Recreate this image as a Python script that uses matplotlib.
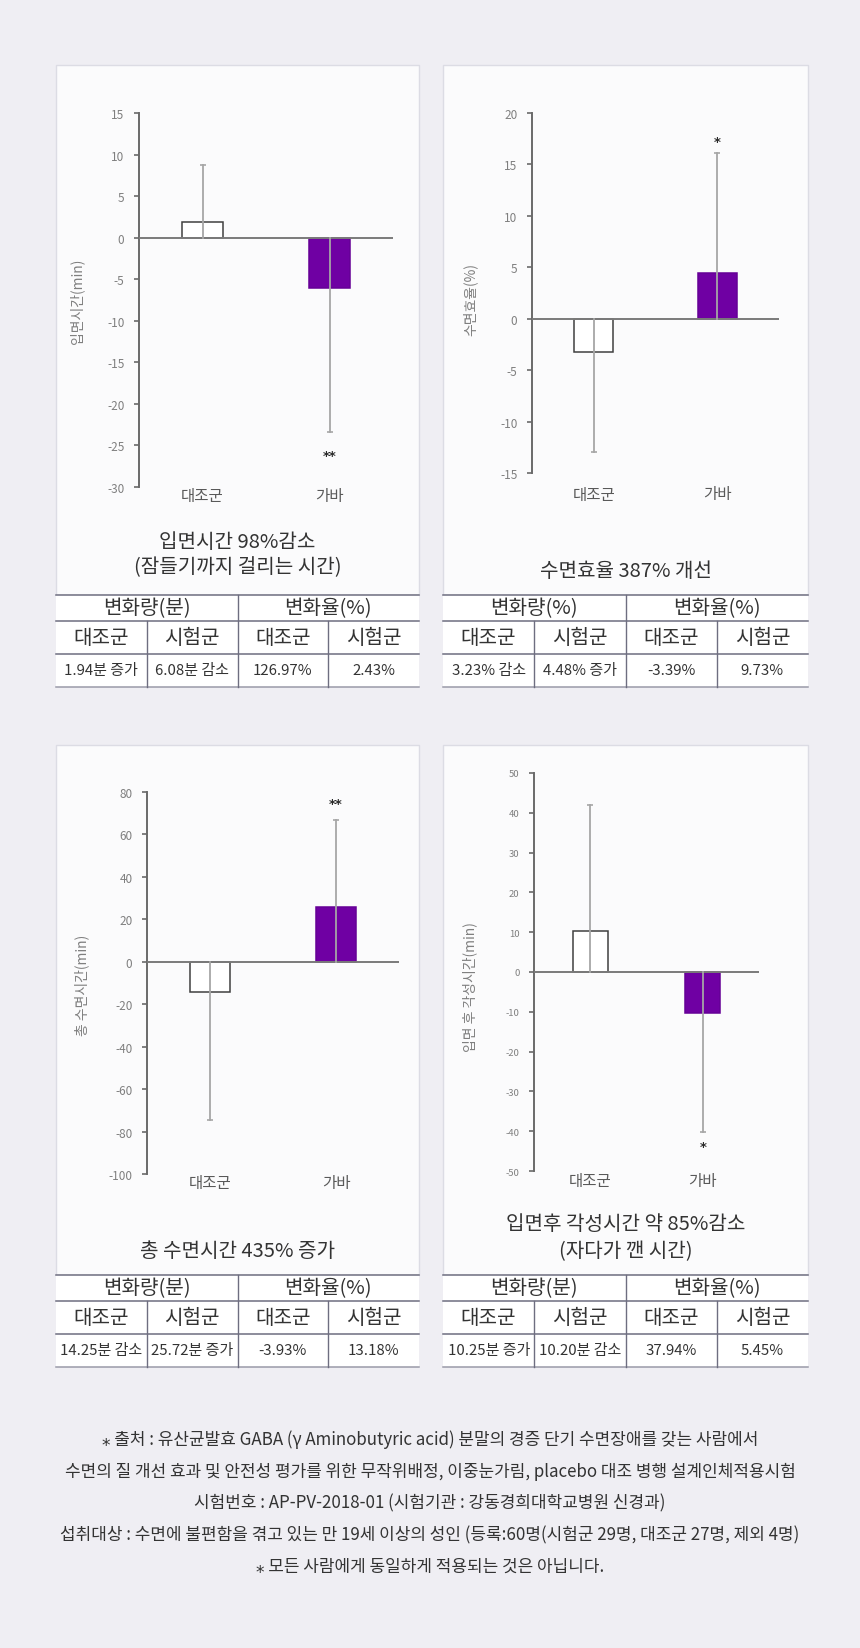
import matplotlib.pyplot as plt
from matplotlib.patches import Rectangle

plt.rcParams["font.family"] = ["Noto Sans CJK KR", "DejaVu Sans"]
plt.rcParams["axes.unicode_minus"] = False

# =========================================================
# DATA
# =========================================================

categories = ["대조군", "가바"]

# chart 1 : 입면시간
onset_mean = [1.94, -6.08]
onset_err = [6.8, 17.3]
onset_star = ["", "**"]
onset_star_y = [0, -25.8]

# chart 2 : 수면효율
eff_mean = [-3.23, 4.48]
eff_err = [9.7, 11.6]
eff_star = ["", "*"]
eff_star_y = [0, 17.6]

# chart 3 : 총 수면시간
total_mean = [-14.25, 25.72]
total_err = [60.2, 41.1]
total_star = ["", "**"]
total_star_y = [0, 76.6]

# chart 4 : 입면 후 각성시간
wake_mean = [10.25, -10.20]
wake_err = [31.8, 30.1]
wake_star = ["", "*"]
wake_star_y = [0, -42.9]

y_labels = ["입면시간(min)", "수면효율(%)", "총 수면시간(min)", "입면 후 각성시간(min)"]
y_limits = [(-30, 15), (-15, 20), (-100, 80), (-50, 50)]
y_steps = [5, 5, 20, 10]

titles = [
    ["입면시간 98%감소", "(잠들기까지 걸리는 시간)"],
    ["수면효율 387% 개선"],
    ["총 수면시간 435% 증가"],
    ["입면후 각성시간 약 85%감소", "(자다가 깬 시간)"],
]

table_heads = [
    ["변화량(분)", "변화율(%)"],
    ["변화량(%)", "변화율(%)"],
    ["변화량(분)", "변화율(%)"],
    ["변화량(분)", "변화율(%)"],
]
table_groups = ["대조군", "시험군", "대조군", "시험군"]
table_values = [
    ["1.94분 증가", "6.08분 감소", "126.97%", "2.43%"],
    ["3.23% 감소", "4.48% 증가", "-3.39%", "9.73%"],
    ["14.25분 감소", "25.72분 증가", "-3.93%", "13.18%"],
    ["10.25분 증가", "10.20분 감소", "37.94%", "5.45%"],
]

footer_lines = [
    "⁎ 출처 : 유산균발효 GABA (γ Aminobutyric acid) 분말의 경증 단기 수면장애를 갖는 사람에서",
    "수면의 질 개선 효과 및 안전성 평가를 위한 무작위배정, 이중눈가림, placebo 대조 병행 설계인체적용시험",
    "시험번호 : AP-PV-2018-01 (시험기관 : 강동경희대학교병원 신경과)",
    "섭취대상 : 수면에 불편함을 겪고 있는 만 19세 이상의 성인 (등록:60명(시험군 29명, 대조군 27명, 제외 4명)",
    "⁎ 모든 사람에게 동일하게 적용되는 것은 아닙니다.",
]

charts = [
    (onset_mean, onset_err, onset_star, onset_star_y),
    (eff_mean, eff_err, eff_star, eff_star_y),
    (total_mean, total_err, total_star, total_star_y),
    (wake_mean, wake_err, wake_star, wake_star_y),
]

# =========================================================
# LAYOUT (pixels)
# =========================================================

W, H = 860, 1649
BG = "#efeef3"
PURPLE = "#6f00a3"
ERR = "#a6a6a6"
AXIS = "#6a6a6a"
TXT = "#333333"
LINE = "#6e6e80"

panels = [(56, 66, 419, 688), (443, 66, 808, 688),
          (56, 746, 419, 1368), (443, 746, 808, 1368)]
table_tops = [596, 596, 1276, 1276]
chart_boxes = [(139, 114, 393, 488), (532, 114, 779, 474),
               (147, 793, 399, 1175), (534, 774, 759, 1172)]
ylabel_pos = [(77, 301), (470, 300), (82, 985), (470, 987)]
title_y = [[543, 568], [572], [1252], [1225, 1252]]
cat_pad = [0.0, 9.0, 0.0, 0.5]
tick_size = [8.5, 8.5, 8.5, 6.8]

fig = plt.figure(figsize=(W / 100, H / 100), dpi=100)
fig.patch.set_facecolor(BG)

bg = fig.add_axes([0, 0, 1, 1])
bg.set_xlim(0, W)
bg.set_ylim(H, 0)
bg.axis("off")

for i, (x0, y0, x1, y1) in enumerate(panels):
    t = table_tops[i]
    bg.add_patch(Rectangle((x0, y0), x1 - x0, t - y0, facecolor="#fbfbfc",
                           edgecolor="#dcdce4", lw=1))
    bg.add_patch(Rectangle((x0, t), x1 - x0, y1 - t, facecolor="white",
                           edgecolor="none"))

    # titles
    for ty, txt in zip(title_y[i], titles[i]):
        bg.text((x0 + x1) / 2, ty, txt, ha="center", va="center",
                fontsize=14.5, color=TXT, fontweight="medium")

    # table lines
    rows = [t, t + 26, t + 59, t + 92]
    cw = (x1 - x0) / 4
    for r in rows[:3]:
        bg.plot([x0, x1], [r, r], color=LINE, lw=1.1)
    bg.plot([x0, x1], [rows[3], rows[3]], color="#9a9aa8", lw=1.1)
    bg.plot([x0 + 2 * cw] * 2, [rows[0], rows[3]], color=LINE, lw=1)
    for k in (1, 3):
        bg.plot([x0 + k * cw] * 2, [rows[1], rows[3]], color=LINE, lw=1)

    # table text
    for k, head in enumerate(table_heads[i]):
        bg.text(x0 + (2 * k + 1) * cw, (rows[0] + rows[1]) / 2, head,
                ha="center", va="center", fontsize=14.5, color=TXT)
    for k in range(4):
        bg.text(x0 + (k + 0.5) * cw, (rows[1] + rows[2]) / 2, table_groups[k],
                ha="center", va="center", fontsize=14.5, color=TXT)
        bg.text(x0 + (k + 0.5) * cw, (rows[2] + rows[3]) / 2, table_values[i][k],
                ha="center", va="center", fontsize=10.8, color=TXT)

    # y label
    lx, ly = ylabel_pos[i]
    bg.text(lx, ly, y_labels[i], rotation=90, ha="center", va="center",
            fontsize=10, color="#7f7f7f")

# footer
for k, line in enumerate(footer_lines):
    bg.text(W / 2, 1440 + k * 31.8, line, ha="center", va="center",
            fontsize=12.2, color=TXT)

# =========================================================
# BAR CHARTS
# =========================================================

x_pos = [0, 1]
for i, (means, errs, stars, star_y) in enumerate(charts):
    l, t, r, b = chart_boxes[i]
    ax = fig.add_axes([l / W, 1 - b / H, (r - l) / W, (b - t) / H])
    ax.patch.set_alpha(0)

    ax.bar(x_pos, means, width=0.315,
           color=["white", PURPLE], edgecolor=["#404040", "#650096"],
           lw=1.1, zorder=2)
    ax.axhline(0, color="#7a7a7a", lw=1.4, zorder=3)

    for x, m, e in zip(x_pos, means, errs):
        end = m + e if m >= 0 else m - e
        ax.plot([x, x], [0, end], color=ERR, lw=1.3, zorder=4)
        ax.plot(x, end, marker="_", ms=5, mew=1.2, color=ERR, zorder=4)

    for x, s, sy in zip(x_pos, stars, star_y):
        if s:
            ax.annotate(s, (x, sy), xytext=(0, -5.3), textcoords="offset points",
                        ha="center", va="baseline", fontsize=9.5, color="#2a2a2a",
                        family="DejaVu Sans", fontweight="bold")

    lo, hi = y_limits[i]
    ax.set_xlim(-0.5, 1.5)
    ax.set_ylim(lo, hi)
    ax.set_yticks(range(lo, hi + 1, y_steps[i]))
    ax.tick_params(axis="y", direction="out", length=3.5, width=1.2,
                   color=AXIS, labelcolor="#7f7f7f", labelsize=tick_size[i], pad=7)
    ax.set_xticks(x_pos)
    ax.set_xticklabels(categories)
    ax.tick_params(axis="x", length=0, labelsize=11.2, labelcolor="#595959",
                   pad=cat_pad[i])

    for side in ["top", "right", "bottom"]:
        ax.spines[side].set_visible(False)
    ax.spines["left"].set_color(AXIS)
    ax.spines["left"].set_linewidth(1.4)

fig.savefig("out.png", dpi=100, facecolor=BG)
